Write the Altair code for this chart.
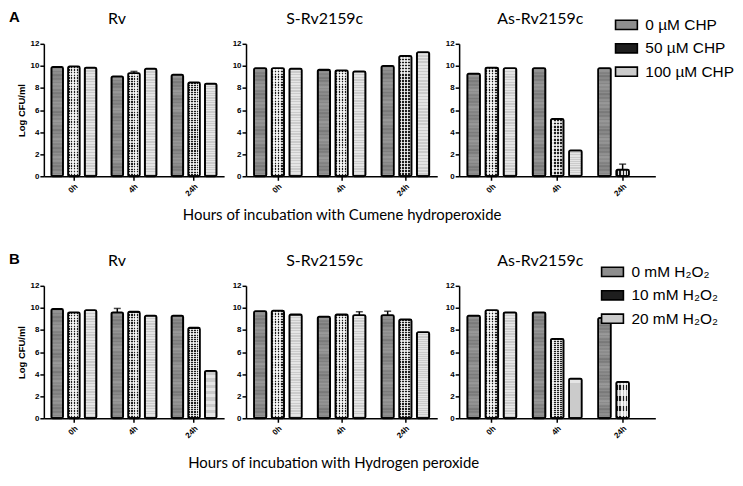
import altair as alt
import pandas as pd

times = ["0h", "4h", "24h"]
strains = ["Rv", "S-Rv2159c", "As-Rv2159c"]
chp_levels = ["0 µM CHP", "50 µM CHP", "100 µM CHP"]
h2o2_levels = ["0 mM H₂O₂", "10 mM H₂O₂", "20 mM H₂O₂"]
panel_letters = ["A", "B"]
x_titles = ["Hours of incubation with Cumene  hydroperoxide",
            "Hours of incubation with Hydrogen peroxide"]

# values[strain][time][level]  (Log CFU/ml)
chp_values = {
    "Rv":         [[9.90, 9.95, 9.85], [9.05, 9.35, 9.75], [9.20, 8.50, 8.40]],
    "S-Rv2159c":  [[9.80, 9.80, 9.75], [9.65, 9.60, 9.50], [10.00, 10.90, 11.25]],
    "As-Rv2159c": [[9.30, 9.85, 9.80], [9.80, 5.20, 2.35], [9.80, 0.60, None]],
}
chp_errors = {
    "Rv":         [[0.05, 0.05, 0.05], [0.05, 0.15, 0.10], [0.05, 0.05, 0.08]],
    "S-Rv2159c":  [[0.05, 0.05, 0.08], [0.05, 0.05, 0.05], [0.05, 0.05, 0.05]],
    "As-Rv2159c": [[0.08, 0.05, 0.05], [0.05, 0.08, 0.10], [0.05, 0.50, 0.0]],
}
h2o2_values = {
    "Rv":         [[9.90, 9.60, 9.80], [9.60, 9.65, 9.30], [9.30, 8.20, 4.30]],
    "S-Rv2159c":  [[9.70, 9.75, 9.40], [9.20, 9.40, 9.35], [9.35, 8.95, 7.80]],
    "As-Rv2159c": [[9.30, 9.80, 9.60], [9.60, 7.20, 3.60], [9.10, 3.30, None]],
}
h2o2_errors = {
    "Rv":         [[0.05, 0.05, 0.05], [0.35, 0.05, 0.05], [0.05, 0.05, 0.10]],
    "S-Rv2159c":  [[0.05, 0.08, 0.10], [0.05, 0.08, 0.30], [0.35, 0.05, 0.10]],
    "As-Rv2159c": [[0.08, 0.05, 0.0], [0.0, 0.08, 0.0], [0.05, 0.12, 0.0]],
}

level_colors = ["#8e8e8e", "#1e1e1e", "#cbcbcb"]
FONT_LAB = "Liberation Sans"
FONT_TXT = "Lato"


def stripes(c1, c2, n, frac, vertical):
    stops = []
    for k in range(n):
        a = k / n
        b = (k + frac) / n
        c = (k + 1) / n
        stops += [{"offset": a, "color": c1}, {"offset": b, "color": c1},
                  {"offset": b, "color": c2}, {"offset": c, "color": c2}]
    g = {"gradient": "linear", "stops": stops, "x1": 0, "y1": 0}
    g.update({"x2": 0, "y2": 1} if vertical else {"x2": 1, "y2": 0})
    return g


def soft(c1, c2, n, vertical):
    stops = []
    for k in range(n):
        stops += [{"offset": k / n, "color": c1}, {"offset": (k + 0.5) / n, "color": c2}]
    stops.append({"offset": 1, "color": c1})
    g = {"gradient": "linear", "stops": stops, "x1": 0, "y1": 0}
    g.update({"x2": 0, "y2": 1} if vertical else {"x2": 1, "y2": 0})
    return g


textures = [
    [soft("rgba(0,0,0,0.0)", "rgba(0,0,0,0.16)", 6, True),
     stripes("rgba(255,255,255,0.0)", "rgba(255,255,255,0.10)", 30, 0.5, True)],
    [stripes("rgba(255,255,255,0.0)", "rgba(255,255,255,0.85)", 4, 0.5, False),
     stripes("rgba(255,255,255,0.0)", "rgba(255,255,255,0.75)", 40, 0.5, True)],
    [stripes("rgba(255,255,255,0.0)", "rgba(255,255,255,0.5)", 40, 0.5, True)],
]


def make_df(values, errors, strain, levels):
    rows = []
    for ti, t in enumerate(times):
        for li, lv in enumerate(levels):
            v = values[strain][ti][li]
            e = errors[strain][ti][li]
            rows.append({"time": t, "level": lv, "value": v,
                         "hi": (v + e) if v is not None else None,
                         "err": e if v is not None else 0.0})
    return pd.DataFrame(rows)


def y_enc(field, first):
    return alt.Y(field, type="quantitative",
                 scale=alt.Scale(domain=[0, 12], nice=False),
                 axis=alt.Axis(values=[0, 2, 4, 6, 8, 10, 12], grid=False,
                               labelOverlap=False,
                               title="Log CFU/ml" if first else None,
                               titleFont=FONT_LAB, titleFontSize=9.5,
                               titleFontWeight="bold", titleColor="black",
                               titlePadding=4, labelFontSize=8,
                               labelFontWeight="bold", labelFont=FONT_LAB,
                               labelColor="black", tickSize=4, labelPadding=1))


def panel(values, errors, strain, levels, width, height, first, last,
          letter, leg_xy):
    df = make_df(values, errors, strain, levels)
    base = alt.Chart(df)
    x = alt.X("time:N", sort=times,
              scale=alt.Scale(type="band", domain=times, paddingInner=0.25,
                              paddingOuter=0.125),
              axis=alt.Axis(title=None, labelAngle=-45, labelFontSize=8,
                            labelFontWeight="bold", labelFont=FONT_LAB,
                            labelColor="black", tickSize=4, labelPadding=2))
    xo = alt.XOffset("level:N", sort=levels,
                     scale=alt.Scale(type="band", domain=levels, paddingInner=0.3,
                                     paddingOuter=0))
    y = y_enc("value", first)
    if last:
        legend = alt.Legend(title=None, orient="none", legendX=leg_xy[0],
                            legendY=leg_xy[1], labelFont=FONT_LAB,
                            labelFontSize=15.5, labelColor="black",
                            symbolType="M-1,-0.42L1,-0.42L1,0.42L-1,0.42Z",
                            symbolSize=480, symbolStrokeColor="black",
                            symbolStrokeWidth=1.6, symbolOpacity=1,
                            rowPadding=2.5, labelOffset=7)
    else:
        legend = None
    layers = [base.mark_bar().encode(
        x=x, xOffset=xo, y=y,
        color=alt.Color("level:N", sort=levels,
                        scale=alt.Scale(domain=levels, range=level_colors),
                        legend=legend))]
    for li, lv in enumerate(levels):
        for g in textures[li]:
            layers.append(base.transform_filter(alt.datum.level == lv)
                          .mark_bar(fill=g).encode(x=x, xOffset=xo, y=y))
    layers.append(base.mark_bar(fillOpacity=0, stroke="black", strokeWidth=1.8,
                                cornerRadius=1.5).encode(x=x, xOffset=xo, y=y))
    errs = base.transform_filter(alt.datum.err > 0.12)
    layers.append(errs.mark_rule(color="black", strokeWidth=1.5).encode(
        x=x, xOffset=xo, y=y, y2="hi:Q"))
    layers.append(errs.mark_tick(color="black", thickness=1.5, size=7).encode(
        x=x, xOffset=xo, y=y_enc("hi", first)))
    layers.append(alt.Chart(pd.DataFrame({"t": [strain]})).mark_text(
        font=FONT_TXT, fontSize=16, align="center", baseline="middle",
        color="black").encode(
        text="t:N", x=alt.value(width / 2 - 17), y=alt.value(-25)))
    if first:
        layers.append(alt.Chart(pd.DataFrame({"t": [letter]})).mark_text(
            font=FONT_LAB, fontSize=15, fontWeight="bold", align="left",
            baseline="middle", color="black").encode(
            text="t:N", x=alt.value(-35), y=alt.value(-27)))
    return alt.layer(*layers).properties(width=width, height=height).resolve_scale(
        color="shared")


widths = [181, 192, 197]
H = 133


def row(values, errors, levels, letter, xtitle, xt_off, leg_xy):
    panels = []
    for i, s in enumerate(strains):
        panels.append(panel(values, errors, s, levels, widths[i], H,
                            i == 0, i == 2, letter, leg_xy))
    return alt.hconcat(
        *panels, spacing=8,
        title=alt.TitleParams(xtitle, orient="bottom", anchor="middle",
                              font=FONT_TXT, fontSize=15, fontWeight="normal",
                              color="black", offset=xt_off, dx=-30),
    ).resolve_scale(color="independent", xOffset="independent",
                    x="independent", y="independent")


chart = alt.vconcat(
    row(chp_values, chp_errors, chp_levels, panel_letters[0], x_titles[0], 11, (156, -31)),
    row(h2o2_values, h2o2_errors, h2o2_levels, panel_letters[1], x_titles[1], 17, (142, -26)),
    spacing=28,
).resolve_scale(color="independent", xOffset="independent",
                x="independent", y="independent").properties(
    padding={"left": 1, "top": 1, "right": 0, "bottom": 0}
).configure_view(stroke=None).configure_axis(
    domainColor="black", domainWidth=1.5, tickColor="black", tickWidth=1.5
).configure_concat(spacing=8)

chart.save("out.html", embed_options={"renderer": "svg", "actions": False})
